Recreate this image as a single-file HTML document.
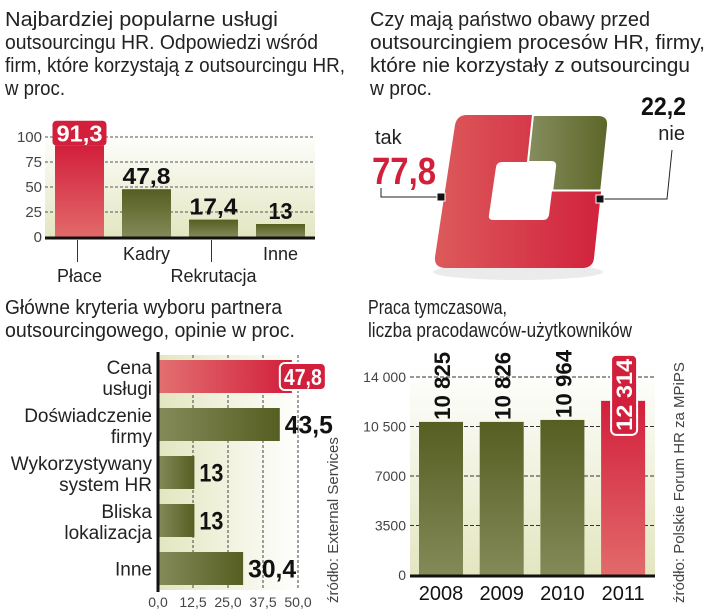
<!DOCTYPE html>
<html><head><meta charset="utf-8"><style>
html,body{margin:0;padding:0;background:#fff}
svg{display:block;font-family:"Liberation Sans Narrow","Liberation Sans",sans-serif}
.t{font-size:20px;fill:#222}
</style></head><body>
<svg id="s" width="720" height="610" viewBox="0 0 720 610">
<defs>
<linearGradient id="bgv" x1="0" y1="0" x2="0" y2="1"><stop offset="0" stop-color="#fff"/><stop offset="1" stop-color="#e3e6c0"/></linearGradient>
<linearGradient id="bgh" x1="0" y1="0" x2="1" y2="0"><stop offset="0" stop-color="#e3e6c0"/><stop offset="1" stop-color="#fff"/></linearGradient>
<linearGradient id="redv" x1="0" y1="0" x2="0" y2="1"><stop offset="0" stop-color="#d21f3c"/><stop offset="1" stop-color="#e26a6a"/></linearGradient>
<linearGradient id="grnv" x1="0" y1="0" x2="0" y2="1"><stop offset="0" stop-color="#565e22"/><stop offset="1" stop-color="#838a58"/></linearGradient>
<linearGradient id="redh" x1="0" y1="0" x2="1" y2="0"><stop offset="0" stop-color="#e27070"/><stop offset="1" stop-color="#d21f3c"/></linearGradient>
<linearGradient id="grnh" x1="0" y1="0" x2="1" y2="0"><stop offset="0" stop-color="#848b5a"/><stop offset="1" stop-color="#565e22"/></linearGradient>
<linearGradient id="donut" x1="0" y1="0" x2="1" y2="0"><stop offset="0" stop-color="#dc5a5a"/><stop offset="1" stop-color="#d11f3c"/></linearGradient>
<linearGradient id="donutg" x1="0" y1="0" x2="1" y2="0"><stop offset="0" stop-color="#868d5e"/><stop offset="1" stop-color="#5d6628"/></linearGradient>
</defs>

<g class="t">
<text x="5" y="26" textLength="273" lengthAdjust="spacingAndGlyphs">Najbardziej popularne usługi</text>
<text x="5" y="49" textLength="313" lengthAdjust="spacingAndGlyphs">outsourcingu HR. Odpowiedzi wśród</text>
<text x="5" y="72" textLength="340" lengthAdjust="spacingAndGlyphs">firm, które korzystają z outsourcingu HR,</text>
<text x="5" y="95" textLength="60" lengthAdjust="spacingAndGlyphs">w proc.</text>
</g>
<g class="t">
<text x="370" y="26" textLength="280" lengthAdjust="spacingAndGlyphs">Czy mają państwo obawy przed</text>
<text x="370" y="49" textLength="335" lengthAdjust="spacingAndGlyphs">outsourcingiem procesów HR, firmy,</text>
<text x="370" y="72" textLength="320" lengthAdjust="spacingAndGlyphs">które nie korzystały z outsourcingu</text>
<text x="370" y="95" textLength="62" lengthAdjust="spacingAndGlyphs">w proc.</text>
</g>
<g class="t">
<text x="5" y="314" textLength="277" lengthAdjust="spacingAndGlyphs">Główne kryteria wyboru partnera</text>
<text x="5" y="337" textLength="290" lengthAdjust="spacingAndGlyphs">outsourcingowego, opinie w proc.</text>
</g>
<g class="t">
<text x="368" y="314" textLength="139" lengthAdjust="spacingAndGlyphs">Praca tymczasowa,</text>
<text x="368" y="337" textLength="264" lengthAdjust="spacingAndGlyphs">liczba pracodawców-użytkowników</text>
</g>

<g id="c1"></g>
<g id="c2"></g>
<g id="c3"></g>
<g id="c4"></g>
</svg>
<script>
const c1Cats=["Płace","Kadry","Rekrutacja","Inne"];
const c1Vals=[91.3,47.8,17.4,13];
const c1Labels=["91,3","47,8","17,4","13"];
const c1Ticks=[0,25,50,75,100];
const c2Vals=[77.8,22.2];
const c2Labels=["77,8","22,2"];
const c3Cats=[["Cena","usługi"],["Doświadczenie","firmy"],["Wykorzystywany","system HR"],["Bliska","lokalizacja"],["Inne"]];
const c3Vals=[47.8,43.5,13,13,30.4];
const c3Labels=["47,8","43,5","13","13","30,4"];
const c3Ticks=[0,12.5,25,37.5,50];
const c3TickLabels=["0,0","12,5","25,0","37,5","50,0"];
const c4Cats=["2008","2009","2010","2011"];
const c4Vals=[10825,10826,10964,12314];
const c4Labels=["10 825","10 826","10 964","12 314"];
const c4Ticks=[0,3500,7000,10500,14000];
const c4TickLabels=["0","3500","7000","10 500","14 000"];

const NS="http://www.w3.org/2000/svg";
function mk(p,tag,a,txt){const e=document.createElementNS(NS,tag);for(const k in a)e.setAttribute(k,a[k]);if(txt!=null)e.textContent=txt;p.appendChild(e);return e;}
function nw(s,px){return Math.round(s.length*px);}

// Chart 1
(function(){
const g=document.getElementById('c1');
const y=v=>237-v*1.0;
const bx=i=>55+i*67, bw=49;
mk(g,'rect',{x:45,y:130,width:270,height:108,fill:'url(#bgv)'});
c1Ticks.forEach(t=>{
 if(t>0){const l=mk(g,'line',{x1:45,x2:315,y1:y(t),y2:y(t),stroke:'#555','stroke-dasharray':'3,2','stroke-width':1});
 
 }
 const tx=mk(g,'text',{x:42,y:y(t)+5,'text-anchor':'end','font-size':15,fill:'#444'},String(t));
 
 
});
c1Vals.forEach((v,i)=>{
 const r=mk(g,'rect',{x:bx(i),y:y(v),width:bw,height:237-y(v),fill:i==0?'url(#redv)':'url(#grnv)'});
 
 
 const cx=bx(i)+bw/2;
 if(i==0){
  const bb=mk(g,'rect',{x:cx-27,y:y(v)-25,width:54,height:25,rx:4,fill:'#d21f3c'});
  
  
  mk(g,'text',{x:cx-23,y:y(v)-4,'font-size':23,'font-weight':'bold',fill:'#fff',textLength:46,lengthAdjust:'spacingAndGlyphs'},c1Labels[i]);
 } else {
  const w=nw(c1Labels[i],12);
  const t=mk(g,'text',{x:cx-w/2,y:y(v)-5,'font-size':23,'font-weight':'bold',fill:'#111',textLength:w,lengthAdjust:'spacingAndGlyphs'},c1Labels[i]);
  
  
 }
 const low=(i%2==0);
 if(low) mk(g,'line',{x1:cx-2,x2:cx-2,y1:240,y2:262,stroke:'#333','stroke-width':1});
 const cl=mk(g,'text',{x:cx,y:low?282:260,'text-anchor':'middle','font-size':18,fill:'#222'},c1Cats[i]);
 
 
});
mk(g,'line',{x1:45,x2:315,y1:238,y2:238,stroke:'#111','stroke-width':3});
})();

// Chart 2
(function(){
const g=document.getElementById('c2');
mk(g,'ellipse',{cx:518,cy:272,rx:85,ry:8,fill:'#ddd',opacity:0.6});
const outer="M467,115 L598,115 Q609,115 608,126 L594,258 Q593,268 582,268 L446,268 Q434,268 435,257 L455,125 Q457,115 467,115 Z";
const hole="M502,162 L551,162 Q556,162 555,167 L549,215 Q548,220 543,220 L493,220 Q488,220 489,215 L496,167 Q497,162 502,162 Z";
const d=mk(g,'path',{d:outer+' '+hole,fill:'url(#donut)','fill-rule':'evenodd'});


const frac=c2Vals[1]/100;
const ry=115+frac*340;
const rx=608-(ry-126)*0.105;
const hx=555-(ry-167)*0.12;
const gr=mk(g,'path',{d:`M533,115 L598,115 Q609,115 608,126 L${rx},${ry} L${hx},${ry} L555,167 Q556,162 551,162 L528,162 Z`,fill:'url(#donutg)',stroke:'#fff','stroke-width':2});


mk(g,'text',{x:375,y:144,'font-size':20,fill:'#222'},'tak');
const v1=mk(g,'text',{x:372,y:184,'font-size':38,'font-weight':'bold',fill:'#d11f3c',textLength:64,lengthAdjust:'spacingAndGlyphs'},c2Labels[0]);


mk(g,'polyline',{points:'381,188 381,197 440,197',fill:'none',stroke:'#222','stroke-width':1});
mk(g,'rect',{x:437,y:193,width:8,height:8,fill:'#111',stroke:'#fff','stroke-width':1});
const v2=mk(g,'text',{x:641,y:115,'font-size':25,'font-weight':'bold',fill:'#111',textLength:45,lengthAdjust:'spacingAndGlyphs'},c2Labels[1]);


mk(g,'text',{x:685,y:140,'font-size':20,fill:'#222','text-anchor':'end'},'nie');
mk(g,'polyline',{points:'672,150 667,199 603,199',fill:'none',stroke:'#222','stroke-width':1});
mk(g,'rect',{x:596,y:195,width:8,height:8,fill:'#111',stroke:'#fff','stroke-width':1});
})();

// Chart 3
(function(){
const g=document.getElementById('c3');
const x=v=>158+v*2.8;
const rowY=i=>360+i*48, bh=33;
mk(g,'rect',{x:158,y:355,width:142,height:235,fill:'url(#bgh)'});
c3Ticks.forEach((t,i)=>{
 if(t>0){const l=mk(g,'line',{x1:x(t),x2:x(t),y1:355,y2:590,stroke:'#444','stroke-dasharray':'3,2'});
 
 }
 const tx=mk(g,'text',{x:x(t),y:607,'text-anchor':'middle','font-size':14,fill:'#444'},c3TickLabels[i]);
 
 
});
c3Vals.forEach((v,i)=>{
 const y0=rowY(i);
 const r=mk(g,'rect',{x:158,y:y0,width:x(v)-158,height:bh,fill:i==0?'url(#redh)':'url(#grnh)'});
 
 
 const lines=c3Cats[i];
 lines.forEach((s,k)=>{
  const yy=lines.length==1?y0+bh/2+7:y0+14+k*21;
  mk(g,'text',{x:152,y:yy,'text-anchor':'end','font-size':19,fill:'#222'},s);
 });
 if(i==0){
  const bb=mk(g,'rect',{x:x(v)-12,y:y0+3,width:46,height:27,rx:5,fill:'#d21f3c',stroke:'#fff','stroke-width':2});
  
  
  mk(g,'text',{x:x(v)-8,y:y0+25,'font-size':23,'font-weight':'bold',fill:'#fff',textLength:38,lengthAdjust:'spacingAndGlyphs'},c3Labels[i]);
 } else {
  const w=nw(c3Labels[i],12);
  const t=mk(g,'text',{x:x(v)+5,y:y0+bh/2+9,'font-size':25,'font-weight':'bold',fill:'#111',textLength:w,lengthAdjust:'spacingAndGlyphs'},c3Labels[i]);
  
  
 }
});
mk(g,'line',{x1:158,x2:158,y1:352,y2:592,stroke:'#111','stroke-width':3});
const s=mk(g,'text',{transform:'translate(338,603) rotate(-90)','font-size':15,fill:'#444'},'źródło: External Services');


})();

// Chart 4
(function(){
const g=document.getElementById('c4');
const y=v=>575-v*198/14000;
const bx=i=>419+i*60.7, bw=44;
mk(g,'rect',{x:410,y:365,width:245,height:211,fill:'url(#bgv)'});
c4Ticks.forEach((t,i)=>{
 if(t>0){const l=mk(g,'line',{x1:410,x2:655,y1:y(t),y2:y(t),stroke:'#333','stroke-dasharray':'4,2'});
 
 }
 const tx=mk(g,'text',{x:406,y:y(t)+5,'text-anchor':'end','font-size':14,fill:'#444'},c4TickLabels[i]);
 
 
});
c4Vals.forEach((v,i)=>{
 const last=i==c4Vals.length-1;
 const r=mk(g,'rect',{x:bx(i),y:y(v),width:bw,height:575-y(v),fill:last?'url(#redv)':'url(#grnv)'});
 
 
 const cx=bx(i)+bw/2;
 if(last){
  const bb=mk(g,'rect',{x:cx-12,y:y(v)-46,width:26,height:80,rx:5,fill:'#d21f3c',stroke:'#fff','stroke-width':2});
  
  
  mk(g,'text',{transform:`translate(${cx+9},${y(v)+30}) rotate(-90)`,'font-size':22,'font-weight':'bold',fill:'#fff',textLength:72,lengthAdjust:'spacingAndGlyphs'},c4Labels[i]);
 } else {
  const t=mk(g,'text',{transform:`translate(${cx+9},${y(v)-2}) rotate(-90)`,'font-size':22,'font-weight':'bold',fill:'#111',textLength:68,lengthAdjust:'spacingAndGlyphs'},c4Labels[i]);
  
  
 }
 const cl=mk(g,'text',{x:cx,y:600,'text-anchor':'middle','font-size':20,fill:'#111'},c4Cats[i]);
 
 
});
mk(g,'line',{x1:410,x2:655,y1:576,y2:576,stroke:'#111','stroke-width':3});
const s=mk(g,'text',{transform:'translate(684,603) rotate(-90)','font-size':15,fill:'#444'},'źródło: Polskie Forum HR za MPiPS');


})();
</script>
</body></html>
